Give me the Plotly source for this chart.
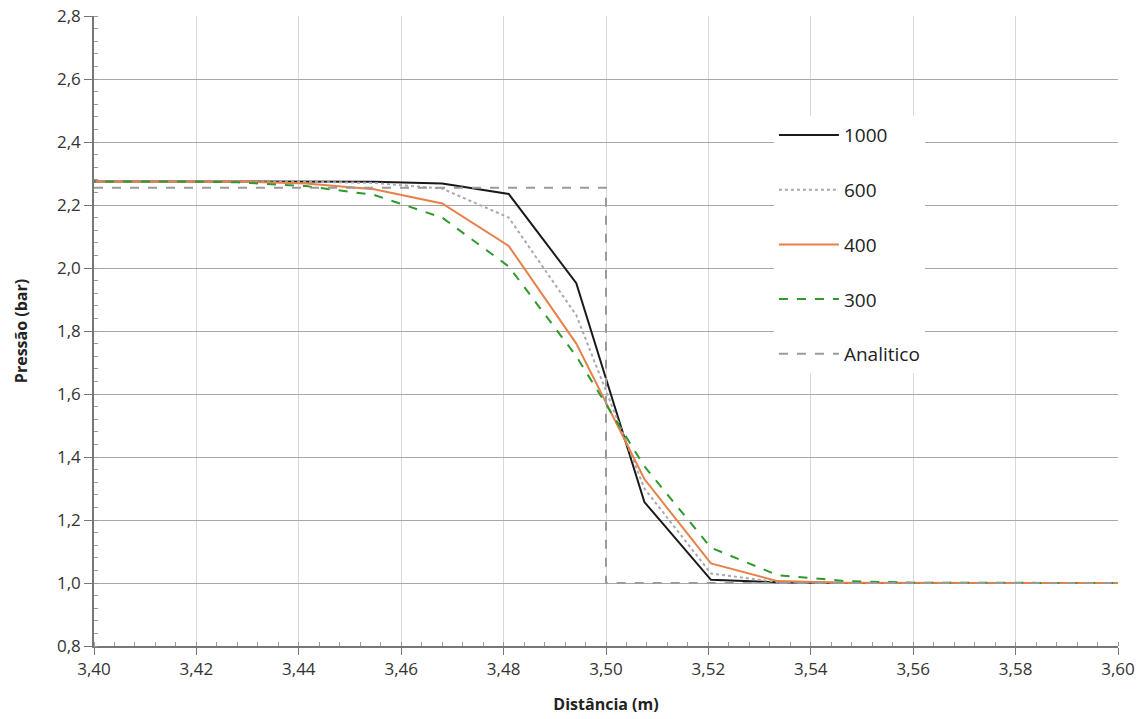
import plotly.graph_objects as go

x_num = [3.3881, 3.4014, 3.4147, 3.4281, 3.4414, 3.4547, 3.4680, 3.4810, 3.4942, 3.5075, 3.5205, 3.5335, 3.5468, 3.5601, 3.5734, 3.5867, 3.6000]
y_1000 = [2.275, 2.275, 2.275, 2.275, 2.275, 2.274, 2.268, 2.235, 1.952, 1.257, 1.010, 1.002, 1.000, 1.000, 1.000, 1.000, 1.000]
y_600 = [2.275, 2.275, 2.275, 2.275, 2.274, 2.270, 2.252, 2.160, 1.850, 1.300, 1.030, 1.003, 1.000, 1.000, 1.000, 1.000, 1.000]
y_400 = [2.275, 2.275, 2.275, 2.275, 2.268, 2.250, 2.205, 2.070, 1.760, 1.330, 1.062, 1.006, 1.001, 1.000, 1.000, 1.000, 1.000]
y_300 = [2.275, 2.275, 2.275, 2.272, 2.260, 2.232, 2.160, 2.005, 1.720, 1.370, 1.112, 1.025, 1.006, 1.001, 1.000, 1.000, 1.000]
x_ana = [3.40, 3.50, 3.50, 3.60]
y_ana = [2.255, 2.255, 1.0, 1.0]

fig = go.Figure()
fig.add_trace(go.Scatter(x=x_num, y=y_1000, mode="lines", name="1000", legendgroup="a",
                         line=dict(color="#1a1a1a", width=2)))
fig.add_trace(go.Scatter(x=x_num, y=y_600, mode="lines", name="600", legendgroup="b",
                         line=dict(color="#a8a8b4", width=2, dash="dot")))
fig.add_trace(go.Scatter(x=x_num, y=y_400, mode="lines", name="400", legendgroup="c",
                         line=dict(color="#e8804a", width=2)))
fig.add_trace(go.Scatter(x=x_num, y=y_300, mode="lines", name="300", legendgroup="d",
                         line=dict(color="#2e9a2e", width=2, dash="dash")))
fig.add_trace(go.Scatter(x=x_ana, y=y_ana, mode="lines", name="Analitico", legendgroup="e",
                         line=dict(color="#9a9a9a", width=2, dash="dash")))

fig.update_layout(
    width=1143, height=719,
    margin=dict(l=94, r=25, t=16, b=73, autoexpand=False),
    plot_bgcolor="white", paper_bgcolor="white",
    separators=", ",
    font=dict(family="Open Sans, DejaVu Sans, sans-serif", size=15, color="#333"),
    showlegend=True,
    legend=dict(x=0.664, y=0.841, xanchor="left", yanchor="top",
                bgcolor="white", borderwidth=0,
                font=dict(size=19, color="#222"),
                tracegroupgap=27, itemwidth=60),
)
fig.update_xaxes(
    range=[3.40, 3.60], dtick=0.02, tick0=3.40, tickformat=".2f",
    tickfont=dict(size=17, color="#333"), automargin=False,
    showgrid=True, gridcolor="#d9d9d9", gridwidth=1,
    showline=True, linecolor="#777", linewidth=1.5,
    ticks="outside", ticklen=7, tickcolor="#777",
    minor=dict(dtick=0.004, ticks="inside", ticklen=4, tickcolor="#999", showgrid=False),
    zeroline=False,
    title=dict(text="<b>Distância (m)</b>", font=dict(size=16, color="#222"), standoff=20),
)
fig.update_yaxes(
    range=[0.8, 2.8], dtick=0.2, tick0=0.8, tickformat=".1f",
    tickfont=dict(size=17, color="#333"), automargin=False,
    showgrid=True, gridcolor="#a8a8a8", gridwidth=1,
    showline=True, linecolor="#777", linewidth=1.5,
    ticks="outside", ticklen=8, tickcolor="#777",
    minor=dict(dtick=0.04, ticks="inside", ticklen=4, tickcolor="#999", showgrid=False),
    zeroline=False,
    title=dict(text="<b>Pressão (bar)</b>", font=dict(size=16, color="#222"), standoff=25),
)

fig.write_html("out.html")
